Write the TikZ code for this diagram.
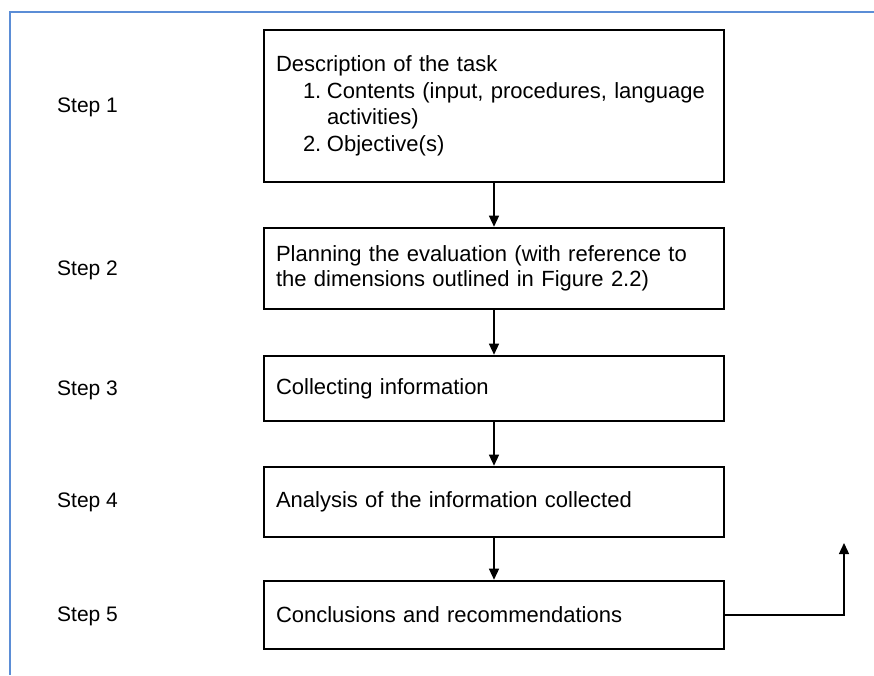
\documentclass[tikz,border=0pt]{standalone}
\usepackage{fontspec}
\setmainfont{Liberation Sans}
\usetikzlibrary{arrows.meta}
\definecolor{frameblue}{RGB}{91,141,214}
\begin{document}
\begin{tikzpicture}[x=1pt,y=-1pt,
  stepbox/.style={draw=black, line width=2.6pt, minimum width=460pt, text width=436pt,
    inner xsep=12pt, inner ysep=0pt, align=left, font=\fontsize{22}{25}\selectfont},
  steplabel/.style={anchor=west, inner sep=0pt, font=\fontsize{21}{25}\selectfont},
  arr/.style={line width=1.3pt, -{Triangle[length=11pt,width=10pt]}}]
\useasboundingbox (0,0) rectangle (874,675);
\draw[frameblue, line width=1.5pt] (874,12) -- (10,12) -- (10,675);

\node[stepbox, minimum height=152pt, font=\fontsize{22}{26.5}\selectfont] (b1) at (494,106) {Description of the task\\
\hspace*{27pt}\makebox[24pt][l]{1.}Contents (input, procedures, language\\
\hspace*{51pt}activities)\\
\hspace*{27pt}\makebox[24pt][l]{2.}Objective(s)};
\node[stepbox, minimum height=81pt] (b2) at (494,268.5) {Planning the evaluation (with reference to\\the dimensions outlined in Figure 2.2)};
\node[stepbox, minimum height=65pt] (b3) at (494,388.5) {Collecting information};
\node[stepbox, minimum height=70pt] (b4) at (494,502) {Analysis of the information collected};
\node[stepbox, minimum height=68pt] (b5) at (494,615) {Conclusions and recommendations};

\node[steplabel] (s1) at (57,107) {Step 1};
\node[steplabel] (s2) at (57,270) {Step 2};
\node[steplabel] (s3) at (57,390) {Step 3};
\node[steplabel] (s4) at (57,502) {Step 4};
\node[steplabel] (s5) at (57,616) {Step 5};

\draw[arr] (b1.south) -- (b2.north);
\draw[arr] (b2.south) -- (b3.north);
\draw[arr] (b3.south) -- (b4.north);
\draw[arr] (b4.south) -- (b5.north);
\coordinate (fb) at (844,543);
\draw[arr] (b5.east) -| (fb);
\end{tikzpicture}
\end{document}
